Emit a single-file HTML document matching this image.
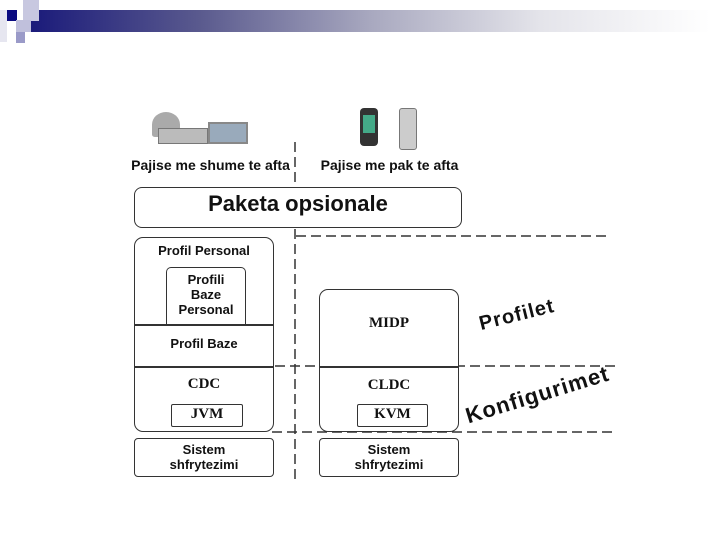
<!DOCTYPE html>
<html><head><style>
body{margin:0;width:720px;height:540px;background:#fff;position:relative;overflow:hidden;font-family:"Liberation Sans",sans-serif}
.a{position:absolute}
.b{position:absolute;border:1.5px solid #333;box-sizing:border-box}
.t{position:absolute;font-weight:bold;text-align:center;color:#111}
.s{font-family:"Liberation Serif",serif}
</style></head><body>
<div class="a" style="left:30px;top:10px;width:680px;height:22px;background:linear-gradient(90deg,#1a1a7a,#5a5a8e 25%,#a8a8bf 50%,#e4e4ea 75%,#fff)"></div>
<div class="a" style="left:7px;top:10px;width:10px;height:11px;background:#0a0a80"></div>
<div class="a" style="left:23px;top:0;width:16px;height:21px;background:#c8c8e0"></div>
<div class="a" style="left:16px;top:20px;width:15px;height:12px;background:#c0c0dc"></div>
<div class="a" style="left:16px;top:32px;width:9px;height:11px;background:#9a9ac8"></div>
<div class="a" style="left:0;top:10px;width:7px;height:32px;background:#e6e6f0"></div>
<div class="a" style="left:152px;top:112px;width:28px;height:25px;background:#aaa;border-radius:50% 50% 10% 10%"></div>
<div class="a" style="left:158px;top:128px;width:48px;height:14px;background:#bbb;border:1px solid #777"></div>
<div class="a" style="left:208px;top:122px;width:36px;height:18px;background:#9ab;border:2px solid #888"></div>
<div class="a" style="left:360px;top:108px;width:18px;height:38px;background:#333;border-radius:4px"></div>
<div class="a" style="left:363px;top:115px;width:12px;height:18px;background:#4a8"></div>
<div class="a" style="left:399px;top:108px;width:16px;height:40px;background:#ccc;border:1px solid #777;border-radius:3px"></div>
<div class="t" style="left:128px;top:157px;width:165px;font-size:14px">Pajise me shume te afta</div>
<div class="t" style="left:312px;top:157px;width:155px;font-size:14px">Pajise me pak te afta</div>
<svg class="a" style="left:0;top:0" width="720" height="540">
<g stroke="#333" stroke-width="1.5" stroke-dasharray="10,5" fill="none">
<line x1="295" y1="142" x2="295" y2="185"/>
<line x1="295" y1="229" x2="295" y2="480"/>
<line x1="296" y1="236" x2="610" y2="236"/>
<line x1="275" y1="366" x2="615" y2="366"/>
<line x1="272" y1="432" x2="615" y2="432"/>
</g>
</svg>
<div class="b" style="left:134px;top:187px;width:328px;height:41px;border-radius:8px"></div>
<div class="t" style="left:134px;top:191px;width:328px;font-size:22px">Paketa opsionale</div>
<div class="b" style="left:134px;top:237px;width:140px;height:195px;border-radius:9px;background:#fff"></div>
<div class="b" style="left:166px;top:267px;width:80px;height:58px;border-radius:5px 5px 0 0;border-bottom:none"></div>
<div class="a" style="left:134px;top:324px;width:140px;height:1.5px;background:#333"></div>
<div class="a" style="left:134px;top:366px;width:140px;height:1.5px;background:#333"></div>
<div class="t" style="left:134px;top:243px;width:140px;font-size:13px">Profil Personal</div>
<div class="t" style="left:166px;top:272px;width:80px;font-size:13px;line-height:15px">Profili<br>Baze<br>Personal</div>
<div class="t" style="left:134px;top:336px;width:140px;font-size:13px">Profil Baze</div>
<div class="t s" style="left:134px;top:376px;width:140px;font-size:15px">CDC</div>
<div class="b" style="left:171px;top:404px;width:72px;height:23px;border-radius:2px"></div>
<div class="t s" style="left:171px;top:406px;width:72px;font-size:15px">JVM</div>
<div class="b" style="left:319px;top:289px;width:140px;height:143px;border-radius:9px;background:#fff"></div>
<div class="a" style="left:319px;top:366px;width:140px;height:1.5px;background:#333"></div>
<div class="t s" style="left:319px;top:315px;width:140px;font-size:15px">MIDP</div>
<div class="t s" style="left:319px;top:377px;width:140px;font-size:15px">CLDC</div>
<div class="b" style="left:357px;top:404px;width:71px;height:23px;border-radius:2px"></div>
<div class="t s" style="left:357px;top:406px;width:71px;font-size:15px">KVM</div>
<div class="b" style="left:134px;top:438px;width:140px;height:39px;border-radius:4px"></div>
<div class="t" style="left:134px;top:442px;width:140px;font-size:13px;line-height:15px">Sistem<br>shfrytezimi</div>
<div class="b" style="left:319px;top:438px;width:140px;height:39px;border-radius:4px"></div>
<div class="t" style="left:319px;top:442px;width:140px;font-size:13px;line-height:15px">Sistem<br>shfrytezimi</div>
<div class="t" style="left:457px;top:304px;width:120px;font-size:20px;letter-spacing:1px;transform:rotate(-14deg)">Profilet</div>
<div class="t" style="left:455px;top:382px;width:165px;font-size:22px;letter-spacing:1px;transform:rotate(-17deg)">Konfigurimet</div>
</body></html>
